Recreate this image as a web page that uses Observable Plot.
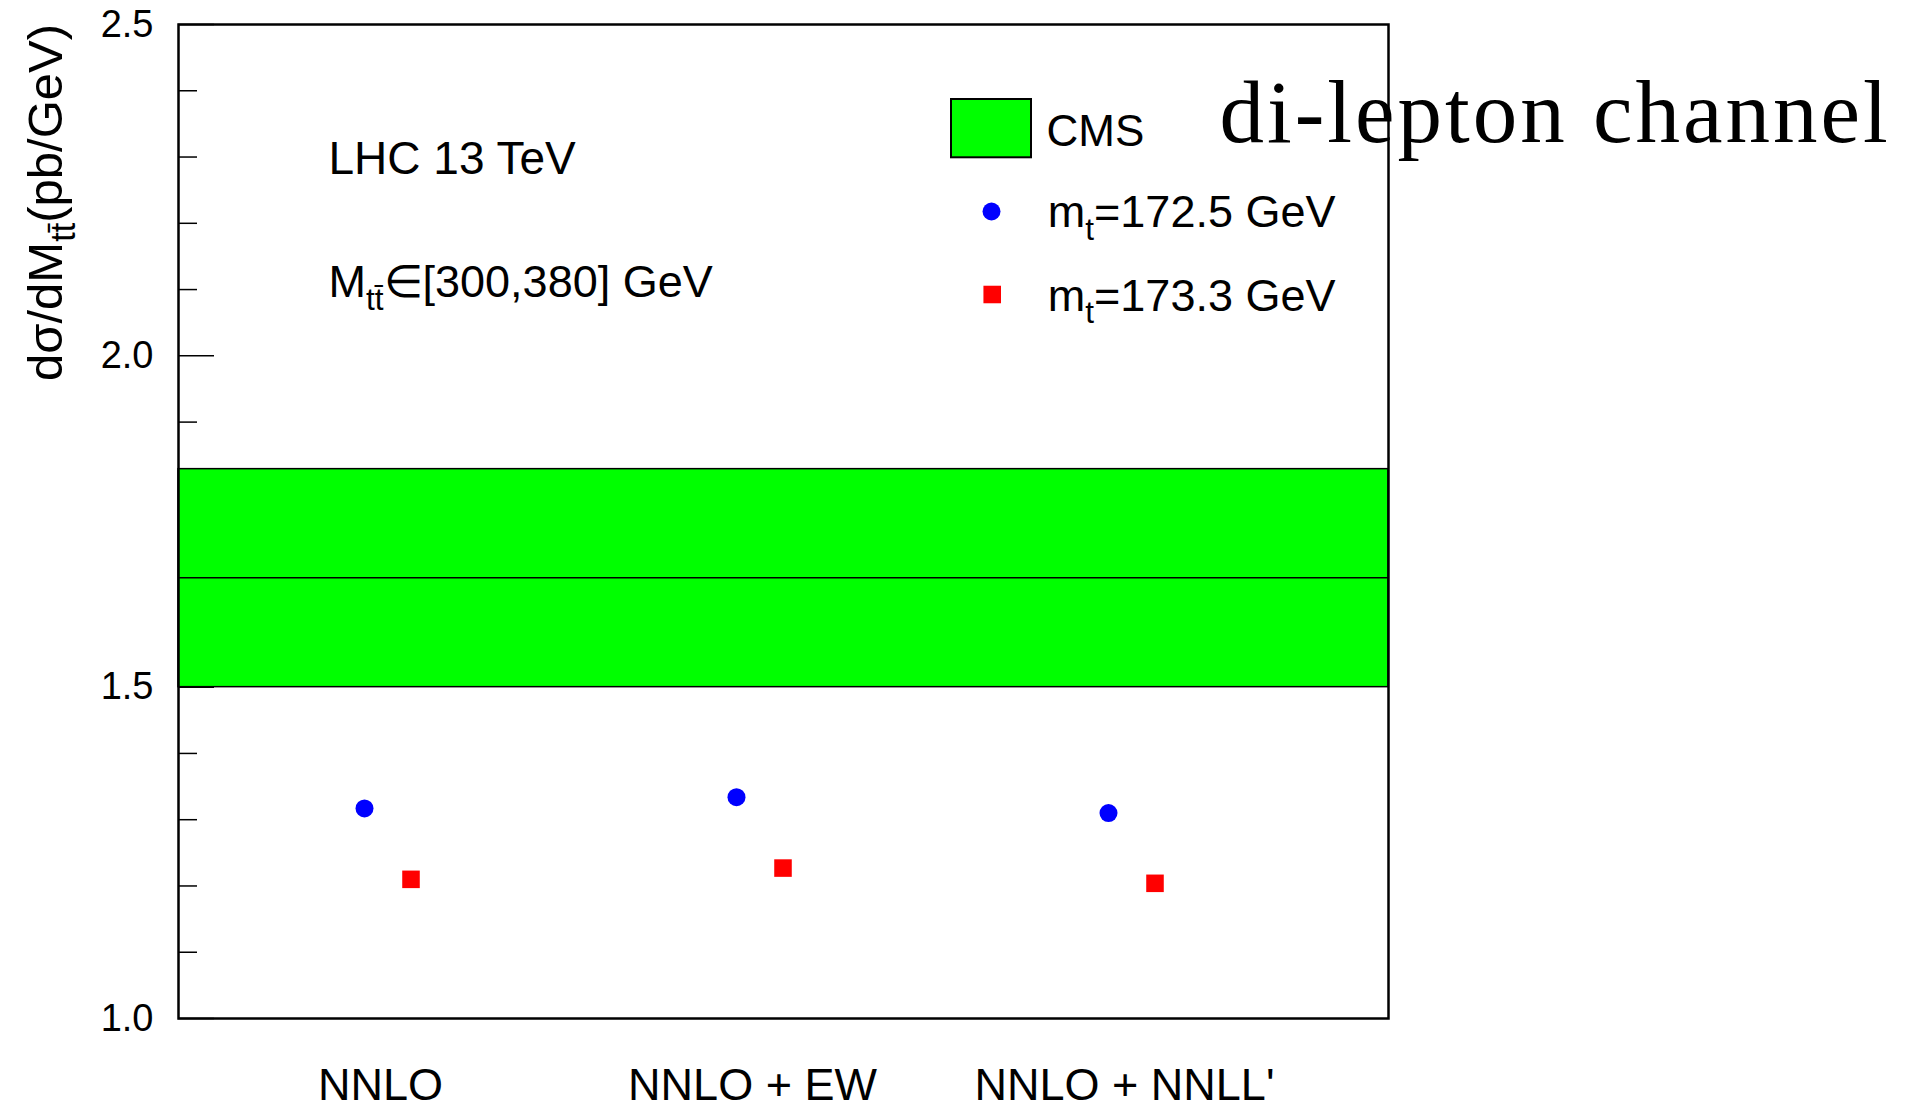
<!DOCTYPE html>
<html><head><meta charset="utf-8">
<script src="https://cdn.jsdelivr.net/npm/d3@7"></script>
<script src="https://cdn.jsdelivr.net/npm/@observablehq/plot@0.6"></script>
<style>
html,body{margin:0;padding:0;background:#fff;overflow:hidden}
#chart svg{display:block}
</style>
</head><body><div id="chart"></div>
<script>
// ---- data ----
const categories = ["NNLO", "NNLO + EW", "NNLO + NNLL'"];
const mt1725 = [1.317, 1.334, 1.310];
const mt1733 = [1.210, 1.227, 1.204];
const cmsBand = [1.500, 1.829];
const cmsCentral = [1.665];
const yMajorTicks = [1.0, 1.5, 2.0, 2.5];
const yMinorTicks = [1.1, 1.2, 1.3, 1.4, 1.6, 1.7, 1.8, 1.9, 2.1, 2.2, 2.3, 2.4];
const seriesLabels = ["m_{t}=172.5 GeV", "m_{t}=173.3 GeV"];
const bandLabel = ["CMS"];
const yLabel = ["dσ/dM_{tt\u0304}(pb/GeV)"];
const annotations = ["LHC 13 TeV", "M_{tt\u0304}∈[300,380] GeV"];
const channelLabel = ["di-lepton channel"];

// ---- tables ----
const blueData = categories.map((c, i) => ({cat: c, value: mt1725[i]}));
const redData = categories.map((c, i) => ({cat: c, value: mt1733[i]}));
const bandData = [{lo: cmsBand[0], hi: cmsBand[1]}];

// ---- layout ----
const W = 1921, H = 1108, ML = 178, MR = 533, MT = 24, MB = 90;
const FW = W - ML - MR, FH = H - MT - MB;
const sans = "'Liberation Sans', Arial, Helvetica, sans-serif";

const plot = Plot.plot({
  width: W, height: H,
  marginLeft: ML, marginRight: MR, marginTop: MT, marginBottom: MB,
  style: {fontFamily: sans, background: "white", color: "black", overflow: "visible"},
  x: {type: "band", domain: categories, paddingInner: 0, paddingOuter: 0.1255, align: 0, axis: null},
  y: {domain: [1, 2.5], axis: null},
  marks: [
    Plot.ruleY(yMajorTicks, {insetRight: FW - 36, stroke: "black", strokeWidth: 1.5}),
    Plot.ruleY(yMinorTicks, {insetRight: FW - 19, stroke: "black", strokeWidth: 1.5}),
    Plot.rect(bandData, {y1: "lo", y2: "hi", fill: "#00ff00", stroke: "black", strokeWidth: 1.5}),
    Plot.ruleY(cmsCentral, {stroke: "black", strokeWidth: 1.5}),
    Plot.axisY({ticks: yMajorTicks, anchor: "left", tickSize: 0, tickPadding: 25, tickFormat: d3.format(".1f"), fontSize: 38, label: null}),
    Plot.axisX({anchor: "bottom", tickSize: 0, tickPadding: 50, fontSize: 45, dx: 16, label: null}),
    Plot.dot(blueData, {x: "cat", y: "value", r: 9, fill: "#0000ff", symbol: "circle"}),
    Plot.dot(redData, {x: "cat", y: "value", r: 9.9, fill: "#ff0000", symbol: "square", dx: 46.5}),
    Plot.frame({stroke: "black", strokeWidth: 2.5}),
    // y label
    Plot.text(yLabel, {frameAnchor: "top-left", text: d => d, rotate: -90, textAnchor: "middle", lineAnchor: "bottom", dx: -117, dy: 178, fontSize: 49}),
    // annotations
    Plot.text([annotations[0]], {frameAnchor: "top-left", text: d => d, textAnchor: "start", lineAnchor: "bottom", dx: 150, dy: 149.3, fontSize: 46}),
    Plot.text([annotations[1]], {frameAnchor: "top-left", text: d => d, textAnchor: "start", lineAnchor: "bottom", dx: 150, dy: 272.7, fontSize: 45}),
    // legend
    Plot.rect(bandLabel, {insetLeft: 773, insetRight: FW - 853, insetTop: 75, insetBottom: FH - 133.3, fill: "#00ff00", stroke: "black", strokeWidth: 2}),
    Plot.text(bandLabel, {frameAnchor: "top-left", text: d => d, textAnchor: "start", lineAnchor: "bottom", dx: 868, dy: 121, fontSize: 44}),
    Plot.dot([seriesLabels[0]], {frameAnchor: "top-left", dx: 813, dy: 187, r: 9, fill: "#0000ff"}),
    Plot.text([seriesLabels[0]], {frameAnchor: "top-left", text: d => d, textAnchor: "start", lineAnchor: "bottom", dx: 869.3, dy: 202.7, fontSize: 45}),
    Plot.dot([seriesLabels[1]], {frameAnchor: "top-left", dx: 813.7, dy: 270, r: 9.9, symbol: "square", fill: "#ff0000"}),
    Plot.text([seriesLabels[1]], {frameAnchor: "top-left", text: d => d, textAnchor: "start", lineAnchor: "bottom", dx: 869.3, dy: 286, fontSize: 45}),
    // channel label
    Plot.text(channelLabel, {frameAnchor: "top-left", text: d => d, textAnchor: "start", lineAnchor: "bottom", dx: 1041, dy: 117.7, fontSize: 89, fontFamily: "'Liberation Serif', 'Times New Roman', serif"})
  ]
});

// subscript markup  _{...}  -> tspans
const SVGNS = "http://www.w3.org/2000/svg";
plot.querySelectorAll("text").forEach(t => {
  const s = t.textContent;
  if (s === channelLabel[0]) t.setAttribute("letter-spacing", "3");
  if (!s.includes("_{")) return;
  const parts = s.split(/_\{([^}]*)\}/);
  while (t.firstChild) t.removeChild(t.firstChild);
  parts.forEach((p, i) => {
    if (i % 2 === 0 && p === "") return;
    const ts = document.createElementNS(SVGNS, "tspan");
    ts.textContent = p;
    if (i % 2 === 1) { ts.setAttribute("font-size", "70%"); ts.setAttribute("dy", "0.4em"); }
    else if (i > 0) { ts.setAttribute("dy", "-0.28em"); }
    t.appendChild(ts);
  });
});

document.getElementById("chart").appendChild(plot);
</script>
</body></html>
